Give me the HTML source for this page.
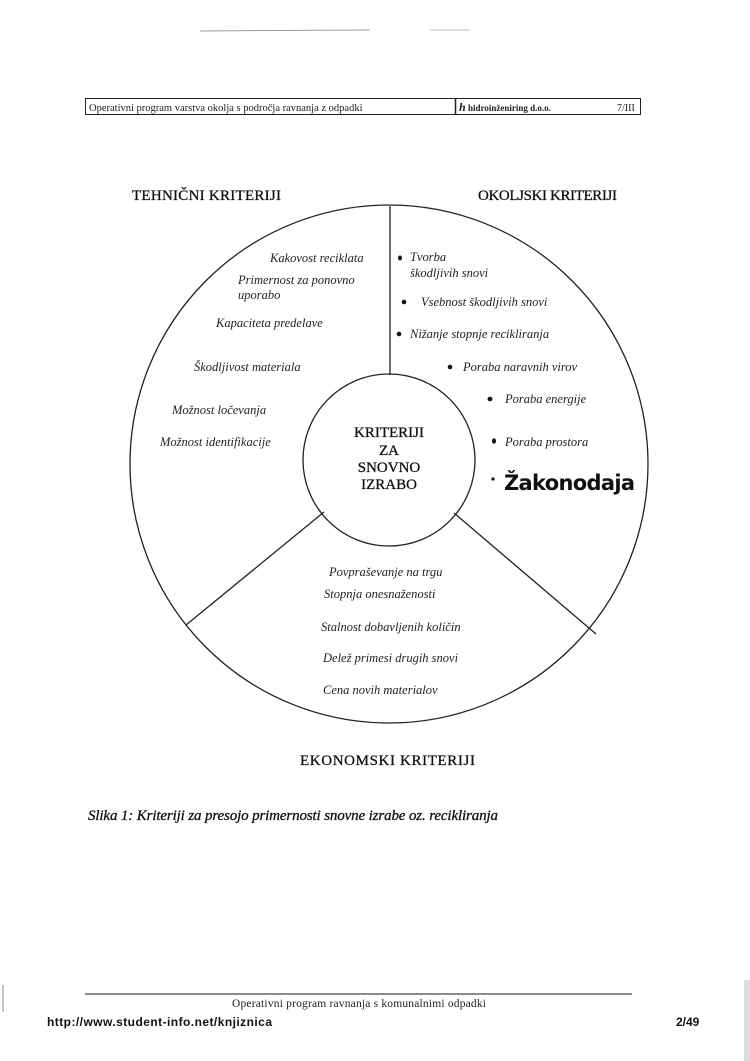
<!DOCTYPE html>
<html><head><meta charset="utf-8"><style>
html,body{margin:0;padding:0;background:#fff;}
body{width:750px;height:1061px;position:relative;overflow:hidden;}
svg{position:absolute;left:0;top:0;}
</style></head><body>
<svg width="750" height="1061" viewBox="0 0 750 1061" xmlns="http://www.w3.org/2000/svg">
<rect x="0" y="0" width="750" height="1061" fill="#fff"/>
<rect x="744" y="980" width="6" height="81" fill="#ddd"/>
<line x1="3" y1="985" x2="3" y2="1012" stroke="#888" stroke-width="1"/>
<line x1="200" y1="31" x2="370" y2="30" stroke="#999" stroke-width="1"/>
<line x1="430" y1="30" x2="470" y2="30" stroke="#bbb" stroke-width="1"/>
<!-- header box -->
<rect x="85.5" y="98.5" width="555" height="16" fill="none" stroke="#222" stroke-width="1"/>
<line x1="455.5" y1="98" x2="455.5" y2="115" stroke="#222" stroke-width="1.5"/>
<g font-family="Liberation Serif, serif" fill="#222">
<text x="89" y="111" font-size="10.5">Operativni program varstva okolja s področja ravnanja z  odpadki</text>
<text x="459" y="111" font-size="12" font-weight="bold" font-style="italic">h</text>
<text x="468" y="111" font-size="9" font-weight="bold">hidroinženiring d.o.o.</text>
<text x="617" y="111" font-size="10">7/III</text>
</g>
<!-- diagram -->
<g fill="none" stroke="#222" stroke-width="1.3">
<circle cx="389" cy="464" r="259"/>
<circle cx="389" cy="460" r="86"/>
<line x1="390" y1="206" x2="390" y2="375"/>
<line x1="324" y1="512" x2="186" y2="625"/>
<line x1="454" y1="513" x2="596" y2="634"/>
</g>
<g font-family="Liberation Serif, serif" fill="#111" stroke="#111" stroke-width="0.3">
<text x="132" y="200" font-size="15" textLength="149">TEHNIČNI KRITERIJI</text>
<text x="478" y="200" font-size="15" textLength="139">OKOLJSKI KRITERIJI</text>
<g font-size="15" text-anchor="middle">
<text x="389" y="437">KRITERIJI</text>
<text x="389" y="455">ZA</text>
<text x="389" y="472">SNOVNO</text>
<text x="389" y="489">IZRABO</text>
</g>
<text x="300" y="765" font-size="15" textLength="175">EKONOMSKI KRITERIJI</text>
<text x="88" y="820" font-size="15" font-style="italic" textLength="410">Slika 1:  Kriteriji za presojo primernosti snovne izrabe oz. recikliranja</text>
</g>
<g font-family="Liberation Serif, serif" font-style="italic" font-size="12.5" fill="#222">
<text x="270" y="262">Kakovost reciklata</text>
<text x="238" y="284">Primernost za ponovno</text>
<text x="238" y="299">uporabo</text>
<text x="216" y="327">Kapaciteta predelave</text>
<text x="194" y="371">Škodljivost materiala</text>
<text x="172" y="414">Možnost ločevanja</text>
<text x="160" y="446">Možnost identifikacije</text>
<text x="410" y="261">Tvorba</text>
<text x="410" y="277">škodljivih snovi</text>
<text x="421" y="306">Vsebnost škodljivih snovi</text>
<text x="410" y="338">Nižanje stopnje recikliranja</text>
<text x="463" y="371">Poraba naravnih virov</text>
<text x="505" y="403">Poraba energije</text>
<text x="505" y="446">Poraba prostora</text>
<text x="329" y="576">Povpraševanje na trgu</text>
<text x="324" y="598">Stopnja onesnaženosti</text>
<text x="321" y="631">Stalnost dobavljenih količin</text>
<text x="323" y="662">Delež primesi drugih snovi</text>
<text x="323" y="694">Cena novih materialov</text>
</g>
<g fill="#111">
<ellipse cx="400" cy="258" rx="2" ry="2.5"/>
<ellipse cx="404" cy="302" rx="2.3" ry="2.3"/>
<ellipse cx="399" cy="334" rx="2.3" ry="2.3"/>
<ellipse cx="450" cy="367" rx="2.3" ry="2.3"/>
<ellipse cx="490" cy="399" rx="2.5" ry="2.3"/>
<ellipse cx="494" cy="441" rx="2" ry="2.7"/>
<circle cx="493" cy="479" r="1.6"/>
</g>
<text x="504" y="490" font-family="DejaVu Sans, sans-serif" font-weight="bold" font-size="21" fill="#111" textLength="131">Žakonodaja</text>
<!-- footer -->
<line x1="85" y1="994" x2="632" y2="994" stroke="#444" stroke-width="1.2"/>
<text x="232" y="1007" font-family="Liberation Serif, serif" font-size="11.5" fill="#222" textLength="254">Operativni program ravnanja s komunalnimi odpadki</text>
<g font-family="Liberation Sans, sans-serif" font-weight="bold" font-size="12" fill="#111">
<text x="47" y="1026" textLength="225">http://www.student-info.net/knjiznica</text>
<text x="676" y="1026">2/49</text>
</g>
</svg>
</body></html>
